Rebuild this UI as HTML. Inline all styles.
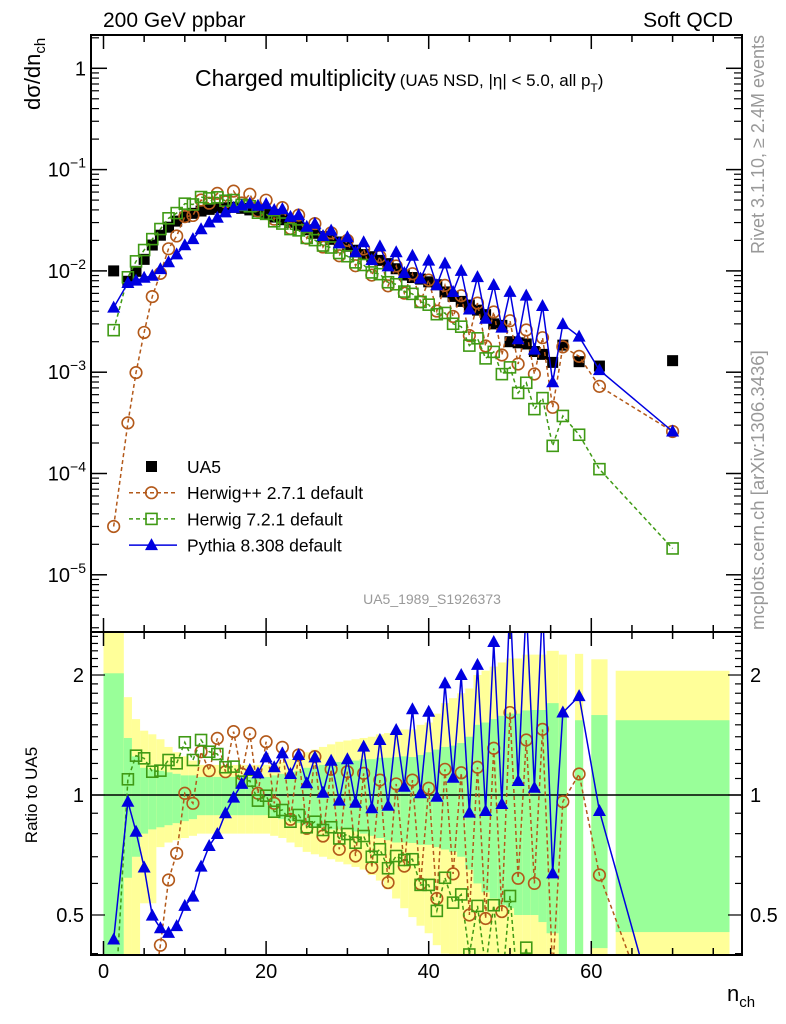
<!DOCTYPE html>
<html><head><meta charset="utf-8"><style>
html,body{margin:0;padding:0;background:#fff;overflow:hidden;width:786px;height:1024px;}
svg{display:block;font-family:"Liberation Sans",sans-serif;}
</style></head><body>
<svg id="chart" width="786" height="1024" viewBox="0 0 786 1024" xmlns="http://www.w3.org/2000/svg">
<defs>
<clipPath id="cm"><rect x="91" y="35" width="651" height="597"/></clipPath>
<clipPath id="cr"><rect x="91" y="632" width="651" height="323"/></clipPath>
</defs>
<g id="bands" clip-path="url(#cr)"></g>
<g id="grid"></g>
<g id="mainMarks" clip-path="url(#cm)"></g>
<g id="ratioMarks" clip-path="url(#cr)"></g>
<rect x="91" y="35" width="651" height="597" fill="none" stroke="#000" stroke-width="2"/>
<rect x="91" y="632" width="651" height="323" fill="none" stroke="#000" stroke-width="2"/>
<text x="103" y="27" font-size="21">200 GeV ppbar</text>
<text x="733" y="27" font-size="21" text-anchor="end">Soft QCD</text>
<text x="195" y="86" font-size="23">Charged multiplicity<tspan font-size="17" dx="4">(UA5 NSD, |η| &lt; 5.0, all p</tspan><tspan font-size="12" dy="6">T</tspan><tspan font-size="17" dy="-6">)</tspan></text>
<text transform="translate(40,110) rotate(-90)" font-size="22">dσ/dn<tspan font-size="15" dy="5">ch</tspan></text>
<text transform="translate(37,795) rotate(-90)" font-size="17" text-anchor="middle">Ratio to UA5</text>
<text x="727" y="1001" font-size="22">n<tspan font-size="15" dy="6">ch</tspan></text>
<text transform="translate(764,35) rotate(-90)" font-size="18" fill="#999" text-anchor="end">Rivet 3.1.10, ≥ 2.4M events</text>
<text transform="translate(764,630) rotate(-90)" font-size="18.5" fill="#999">mcplots.cern.ch [arXiv:1306.3436]</text>
<text x="432" y="604" font-size="14" fill="#999" text-anchor="middle">UA5_1989_S1926373</text>
<g id="legend"></g>
</svg>
<script>
const nch=[1.25,3,4,5,6,7,8,9,10,11,12,13,14,15,16,17,18,19,20,21,22,23,24,25,26,27,28,29,30,31,32,33,34,35,36,37,38,39,40,41,42,43,44,45,46,47,48,49,50,51,52,53,54,55.25,56.5,58.5,61,70];
const binLo=[0,2.5,3.5,4.5,5.5,6.5,7.5,8.5,9.5,10.5,11.5,12.5,13.5,14.5,15.5,16.5,17.5,18.5,19.5,20.5,21.5,22.5,23.5,24.5,25.5,26.5,27.5,28.5,29.5,30.5,31.5,32.5,33.5,34.5,35.5,36.5,37.5,38.5,39.5,40.5,41.5,42.5,43.5,44.5,45.5,46.5,47.5,48.5,49.5,50.5,51.5,52.5,53.5,54.5,56,58,60,63];
const binHi=[2.5,3.5,4.5,5.5,6.5,7.5,8.5,9.5,10.5,11.5,12.5,13.5,14.5,15.5,16.5,17.5,18.5,19.5,20.5,21.5,22.5,23.5,24.5,25.5,26.5,27.5,28.5,29.5,30.5,31.5,32.5,33.5,34.5,35.5,36.5,37.5,38.5,39.5,40.5,41.5,42.5,43.5,44.5,45.5,46.5,47.5,48.5,49.5,50.5,51.5,52.5,53.5,54.5,56,57,59,62,77];
const ua5=[0.0100,0.0079,0.0099,0.0130,0.0180,0.0225,0.0270,0.0310,0.0340,0.0370,0.0390,0.0405,0.0420,0.0420,0.0425,0.0415,0.0400,0.0388,0.0367,0.0340,0.0320,0.0302,0.0282,0.0255,0.0235,0.0218,0.0205,0.0193,0.0175,0.0160,0.0145,0.0138,0.0127,0.0118,0.0105,0.0091,0.0086,0.0083,0.0078,0.0073,0.0062,0.0056,0.0050,0.0046,0.0041,0.0037,0.0030,0.0029,0.0020,0.00195,0.0019,0.0016,0.0015,0.00125,0.00185,0.00127,0.00115,0.0013];
const ratioHerwigPP=[0.003,0.04,0.10,0.19,0.31,0.42,0.612,0.714,1.01,0.953,1.284,1.151,1.387,1.144,1.442,1.129,1.428,1.01,1.36,0.953,1.317,0.869,1.26,0.825,1.248,0.789,1.16,0.731,1.144,0.703,1.133,0.658,1.09,0.603,1.066,0.663,1.09,0.598,1.04,0.55,1.16,0.634,1.137,0.50,1.174,0.49,1.31,0.51,1.61,0.618,1.374,0.60,1.461,0.36,0.962,1.129,0.63,0.2];
const ratioHerwig7=[0.26,1.095,1.255,1.236,1.144,1.151,1.224,1.201,1.356,1.224,1.374,1.284,1.267,1.174,1.178,1.08,1.086,0.968,0.996,0.908,0.917,0.857,0.891,0.83,0.857,0.817,0.83,0.778,0.798,0.759,0.789,0.70,0.731,0.655,0.703,0.687,0.69,0.595,0.595,0.512,0.62,0.537,0.563,0.398,0.527,0.37,0.529,0.33,0.558,0.32,0.414,0.27,0.37,0.15,0.2,0.19,0.096,0.014];
const ratioPythia=[0.434,0.962,0.809,0.658,0.498,0.463,0.451,0.469,0.527,0.556,0.661,0.745,0.798,0.90,0.985,1.066,1.155,1.133,1.243,1.174,1.272,1.129,1.26,1.07,1.243,1.013,1.219,0.968,1.229,0.956,1.322,0.926,1.374,0.94,1.456,1.049,1.641,1.01,1.618,0.99,1.906,1.105,2.0,0.903,2.12,0.912,2.42,0.949,3.1,1.084,3.0,1.043,3.0,0.636,1.61,1.77,0.912,0.2];
const totUp=[3,1.76,1.55,1.45,1.42,1.38,1.32,1.28,1.25,1.22,1.19,1.19,1.19,1.19,1.19,1.19,1.19,1.19,1.19,1.2,1.21,1.23,1.25,1.28,1.3,1.32,1.34,1.36,1.37,1.38,1.39,1.4,1.42,1.43,1.45,1.46,1.46,1.5,1.52,1.6,1.7,1.75,1.8,1.85,2.0,2.05,2.1,2.15,2.2,2.2,2.25,2.25,2.25,2.3,2.25,2.26,2.19,2.05];
const statUp=[2.02,1.39,1.25,1.17,1.16,1.15,1.14,1.13,1.12,1.12,1.11,1.11,1.11,1.11,1.11,1.11,1.11,1.11,1.11,1.12,1.13,1.14,1.15,1.17,1.18,1.19,1.2,1.21,1.22,1.22,1.23,1.23,1.24,1.24,1.245,1.25,1.245,1.26,1.28,1.3,1.32,1.33,1.35,1.4,1.5,1.52,1.55,1.58,1.6,1.6,1.63,1.634,1.634,1.7,1.6,1.54,1.587,1.54];
const statDn=[0.3,0.62,0.70,0.80,0.82,0.83,0.84,0.85,0.86,0.87,0.89,0.89,0.89,0.89,0.89,0.89,0.89,0.89,0.89,0.88,0.87,0.86,0.85,0.84,0.83,0.83,0.82,0.82,0.82,0.81,0.80,0.79,0.78,0.77,0.76,0.76,0.758,0.75,0.75,0.74,0.73,0.72,0.70,0.65,0.6,0.57,0.55,0.53,0.52,0.5,0.5,0.5,0.48,0.45,0.3,0.3,0.413,0.453];
const totDn=[0.3,0.3,0.3,0.535,0.535,0.74,0.76,0.77,0.78,0.79,0.80,0.80,0.80,0.80,0.80,0.80,0.80,0.80,0.80,0.79,0.78,0.76,0.74,0.72,0.71,0.70,0.69,0.68,0.67,0.66,0.65,0.63,0.61,0.58,0.55,0.52,0.494,0.47,0.45,0.42,0.40,0.38,0.35,0.3,0.3,0.3,0.3,0.3,0.3,0.3,0.3,0.3,0.3,0.3,0.3,0.3,0.3,0.3];
const xTicks=[0,20,40,60];
const mainDecades=[0,-1,-2,-3,-4,-5];
const ratioTicks=[0.5,1,2];

const NS="http://www.w3.org/2000/svg";
const X=n=>103.5+8.13*n;
const YM=v=>68.3-101.3*Math.log10(v);
const YR=r=>795-398.6*Math.log10(r);
function mk(tag,attrs,parent){const e=document.createElementNS(NS,tag);for(const k in attrs)e.setAttribute(k,attrs[k]);parent.appendChild(e);return e;}
const bands=document.getElementById('bands'),grid=document.getElementById('grid'),mm=document.getElementById('mainMarks'),rm=document.getElementById('ratioMarks'),lg=document.getElementById('legend');

for(let i=0;i<nch.length;i++){
 const x0=X(binLo[i]),w=X(binHi[i])-x0;
 let r=mk('rect',{x:x0,y:YR(totUp[i]),width:w,height:YR(totDn[i])-YR(totUp[i]),fill:'#ffff99'},bands);
 
 
 r=mk('rect',{x:x0,y:YR(statUp[i]),width:w,height:YR(statDn[i])-YR(statUp[i]),fill:'#99ff99'},bands);
 
 
}
let ref=mk('line',{x1:91,x2:742,y1:YR(1),y2:YR(1),stroke:'#000','stroke-width':1.5},bands);



for(let v=-1;v<=78;v++){
 if(v%5!==0)continue;const x=X(v);if(x<92||x>741)continue;
 const L=(v%20===0)?14:7;
 for(const [y0,d] of [[35,1],[632,-1],[632,1],[955,-1]]){mk('line',{x1:x,x2:x,y1:y0,y2:y0+d*L,stroke:'#000','stroke-width':1.5},grid);}
}
for(const v of xTicks){const t=mk('text',{x:X(v),y:978,'font-size':20,'text-anchor':'middle'},grid);t.textContent=v;
 
 }
for(const d of mainDecades){
 const y=YM(Math.pow(10,d));
 mk('line',{x1:91,x2:107,y1:y,y2:y,stroke:'#000','stroke-width':1.5},grid);
 mk('line',{x1:742,x2:726,y1:y,y2:y,stroke:'#000','stroke-width':1.5},grid);
 const t=mk('text',{x:86,y:y+7,'font-size':20,'text-anchor':'end'},grid);
 
 
 if(d===0)t.textContent='1';else{t.textContent='10';const s=document.createElementNS(NS,'tspan');s.setAttribute('dy','-9');s.setAttribute('font-size','14');s.textContent='−'+(-d);t.appendChild(s);}
}
for(let d=-6;d<=0;d++)for(let m=2;m<=9;m++){const y=YM(m*Math.pow(10,d));if(y<36||y>631)continue;
 mk('line',{x1:91,x2:99,y1:y,y2:y,stroke:'#000','stroke-width':1.2},grid);mk('line',{x1:742,x2:734,y1:y,y2:y,stroke:'#000','stroke-width':1.2},grid);}
for(let r=0.4;r<2.6;r+=0.1){const rr=Math.round(r*10)/10;const y=YR(rr);if(y<633||y>954)continue;
 const L=(rr===0.5||rr===1||rr===2)?14:7;
 mk('line',{x1:91,x2:91+L,y1:y,y2:y,stroke:'#000','stroke-width':1.2},grid);mk('line',{x1:742,x2:742-L,y1:y,y2:y,stroke:'#000','stroke-width':1.2},grid);}
for(const r of ratioTicks){const y=YR(r);
 let t=mk('text',{x:84,y:y+7,'font-size':20,'text-anchor':'end'},grid);t.textContent=r;
 
 
 t=mk('text',{x:750,y:y+7,'font-size':20},grid);t.textContent=r;
 
 }

const C_HPP='#b3591a',C_H7='#3f9a14',C_PY='#0000e0';
function marker(type,x,y,p){
 let e;
 if(type==='sq')e=mk('rect',{x:x-5.5,y:y-5.5,width:11,height:11,fill:'#000'},p);
 else if(type==='circ')e=mk('circle',{cx:x,cy:y,r:5.8,fill:'none',stroke:C_HPP,'stroke-width':1.6},p);
 else if(type==='osq')e=mk('rect',{x:x-5.5,y:y-5.5,width:11,height:11,fill:'none',stroke:C_H7,'stroke-width':1.6},p);
 else e=mk('path',{d:`M${x} ${y-7}L${x+6.5} ${y+5}L${x-6.5} ${y+5}Z`,fill:C_PY},p);
 return e;
}
function series(vals,Y,p,type,color,dash,name){
 const pts=vals.map((v,i)=>[X(nch[i]),Y(v)]);
 if(type!=='sq'){const l=mk('polyline',{points:pts.map(q=>q.join(',')).join(' '),fill:'none',stroke:color,'stroke-width':1.5,'stroke-dasharray':dash||'none'},p);
  
  }
 pts.forEach(q=>{const m=marker(type,q[0],q[1],p);
  
  });
}
const hpp=ratioHerwigPP.map((r,i)=>r*ua5[i]), h7=ratioHerwig7.map((r,i)=>r*ua5[i]), py=ratioPythia.map((r,i)=>r*ua5[i]);
series(ua5,YM,mm,'sq','#000',null,'ua5');
series(hpp,YM,mm,'circ',C_HPP,'4,3','herwigpp');
series(h7,YM,mm,'osq',C_H7,'4,3','herwig7');
series(py,YM,mm,'tri',C_PY,null,'pythia');
series(ratioHerwigPP,YR,rm,'circ',C_HPP,'4,3','herwigpp-ratio');
series(ratioHerwig7,YR,rm,'osq',C_H7,'4,3','herwig7-ratio');
series(ratioPythia,YR,rm,'tri',C_PY,null,'pythia-ratio');

const leg=[['UA5','sq',null,null],['Herwig++ 2.7.1 default','circ',C_HPP,'4,3'],['Herwig 7.2.1 default','osq',C_H7,'4,3'],['Pythia 8.308 default','tri',C_PY,null]];
leg.forEach((e,i)=>{const y=466.5+26.2*i;
 if(e[2]){const l=mk('line',{x1:129,x2:177,y1:y,y2:y,stroke:e[2],'stroke-width':1.5,'stroke-dasharray':e[3]||'none'},lg);
  
  }
 const m=marker(e[1],151.5,y,lg);
 
 
 const t=mk('text',{x:187,y:y+6.5,'font-size':17.5},lg);t.textContent=e[0];
 
 
});
</script>
</body></html>
